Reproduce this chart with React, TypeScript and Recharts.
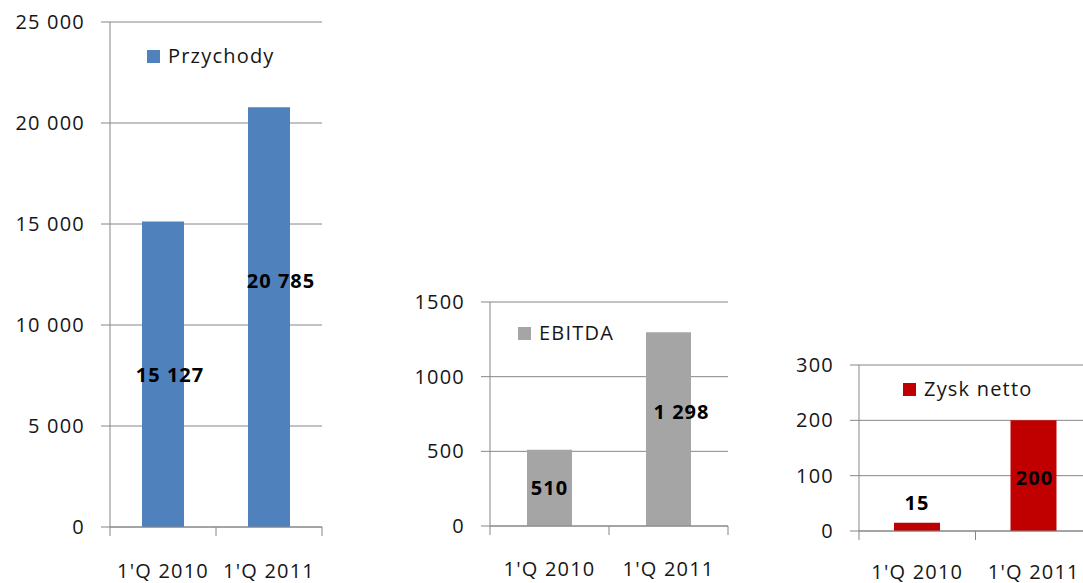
import React from 'react';
import { BarChart, Bar, XAxis, YAxis, CartesianGrid, Legend, LabelList } from 'recharts';

const quarters = ["1'Q 2010", "1'Q 2011"];
const przychody = [15127, 20785];
const ebitda = [510, 1298];
const zyskNetto = [15, 200];

const przychodyTicks = [0, 5000, 10000, 15000, 20000, 25000];
const ebitdaTicks = [0, 500, 1000, 1500];
const zyskTicks = [0, 100, 200, 300];

const GRID = '#868686';
const TEXT = '#161616';
const FONT = '"Open Sans", sans-serif';

// 15127 -> "15 127", 1298 -> "1 298"
const spaced = (v: number) => String(v).replace(/\B(?=(\d{3})+(?!\d))/g, ' ');

const XTick = (props: any) => {
  const { x, y, payload, index, band, labelGap } = props;
  return (
    <g>
      <line x1={x - band / 2} x2={x - band / 2} y1={y} y2={y + 9} stroke={GRID} />
      {index === quarters.length - 1 && (
        <line x1={x + band / 2} x2={x + band / 2} y1={y} y2={y + 9} stroke={GRID} />
      )}
      <text
        x={x}
        y={y + labelGap}
        textAnchor="middle"
        dominantBaseline="central"
        fill={TEXT}
        style={{ fontFamily: FONT, fontSize: 20, letterSpacing: 1.2 }}
      >
        {payload.value}
      </text>
    </g>
  );
};

const valueLabel = (nudges: number[][]) => (props: any) => {
  const { x, y, width, height, value, index } = props;
  const [dx, dy] = nudges[index] || [0, 0];
  const cy = height < 30 ? Number(y) - 20 : Number(y) + Number(height) / 2;
  return (
    <text
      x={Number(x) + Number(width) / 2 + dx}
      y={cy + dy}
      textAnchor="middle"
      dominantBaseline="central"
      fill="#000"
      style={{ fontFamily: FONT, fontSize: 20, fontWeight: 700, letterSpacing: 1 }}
    >
      {spaced(value)}
    </text>
  );
};

interface PanelProps {
  name: string;
  color: string;
  values: number[];
  ticks: number[];
  tickFormat: (v: number) => string;
  left: number;
  top: number;
  width: number;
  height: number;
  marginTop: number;
  marginRight: number;
  yWidth: number;
  xHeight: number;
  labelGap: number;
  barSize: number;
  legendLeft: number;
  legendTop: number;
  nudges: number[][];
}

function Panel(p: PanelProps) {
  const rows = quarters.map((q, i) => ({ quarter: q, value: p.values[i] }));
  const band = (p.width - p.yWidth - p.marginRight) / quarters.length;
  return (
    <div style={{ position: 'absolute', left: p.left, top: p.top }}>
      <BarChart
        width={p.width}
        height={p.height}
        data={rows}
        margin={{ top: p.marginTop, right: p.marginRight, bottom: 0, left: 0 }}
      >
        <CartesianGrid vertical={false} stroke={GRID} />
        <XAxis
          dataKey="quarter"
          height={p.xHeight}
          axisLine={{ stroke: GRID }}
          tickLine={false}
          tickSize={0}
          tickMargin={0}
          interval={0}
          tick={(t: any) => <XTick {...t} band={band} labelGap={p.labelGap} />}
        />
        <YAxis
          width={p.yWidth}
          domain={[p.ticks[0], p.ticks[p.ticks.length - 1]]}
          ticks={p.ticks}
          interval={0}
          tickFormatter={p.tickFormat}
          axisLine={{ stroke: GRID }}
          tickLine={{ stroke: GRID }}
          tickSize={9}
          tickMargin={16}
          tick={{ fill: TEXT, fontSize: 20, fontFamily: FONT, letterSpacing: 1.2 }}
        />
        <Legend
          layout="horizontal"
          verticalAlign="middle"
          align="center"
          wrapperStyle={{ left: p.legendLeft, top: p.legendTop, width: 'auto' }}
          content={() => (
            <div style={{ display: 'flex', alignItems: 'center', fontFamily: FONT, fontSize: 20, letterSpacing: 1.2, color: TEXT, lineHeight: '24px' }}>
              <span style={{ width: 13, height: 13, background: p.color, display: 'inline-block', marginRight: 8 }} />
              <span>{p.name}</span>
            </div>
          )}
        />
        <Bar dataKey="value" name={p.name} fill={p.color} barSize={p.barSize} isAnimationActive={false}>
          <LabelList dataKey="value" content={valueLabel(p.nudges)} />
        </Bar>
      </BarChart>
    </div>
  );
}

export default function App() {
  return (
    <div style={{ position: 'absolute', left: 0, top: 0, width: 1083, height: 583, overflow: 'hidden', background: '#fff' }}>
      <Panel
        name="Przychody"
        color="#4F81BD"
        values={przychody}
        ticks={przychodyTicks}
        tickFormat={spaced}
        left={0}
        top={0}
        width={340}
        height={583}
        marginTop={22}
        marginRight={18}
        yWidth={110}
        xHeight={56}
        labelGap={43}
        barSize={42}
        legendLeft={147}
        legendTop={44}
        nudges={[[7, 0], [12, -37]]}
      />
      <Panel
        name="EBITDA"
        color="#A5A5A5"
        values={ebitda}
        ticks={ebitdaTicks}
        tickFormat={(v) => String(v)}
        left={380}
        top={280}
        width={360}
        height={303}
        marginTop={22}
        marginRight={12}
        yWidth={110}
        xHeight={57}
        labelGap={42}
        barSize={45}
        legendLeft={138}
        legendTop={41}
        nudges={[[0, 0], [13, -18]]}
      />
      <Panel
        name="Zysk netto"
        color="#C00000"
        values={zyskNetto}
        ticks={zyskTicks}
        tickFormat={(v) => String(v)}
        left={760}
        top={340}
        width={340}
        height={243}
        marginTop={25}
        marginRight={8}
        yWidth={99}
        xHeight={52}
        labelGap={40}
        barSize={46}
        legendLeft={143}
        legendTop={37}
        nudges={[[0, 0], [1, 2]]}
      />
    </div>
  );
}
